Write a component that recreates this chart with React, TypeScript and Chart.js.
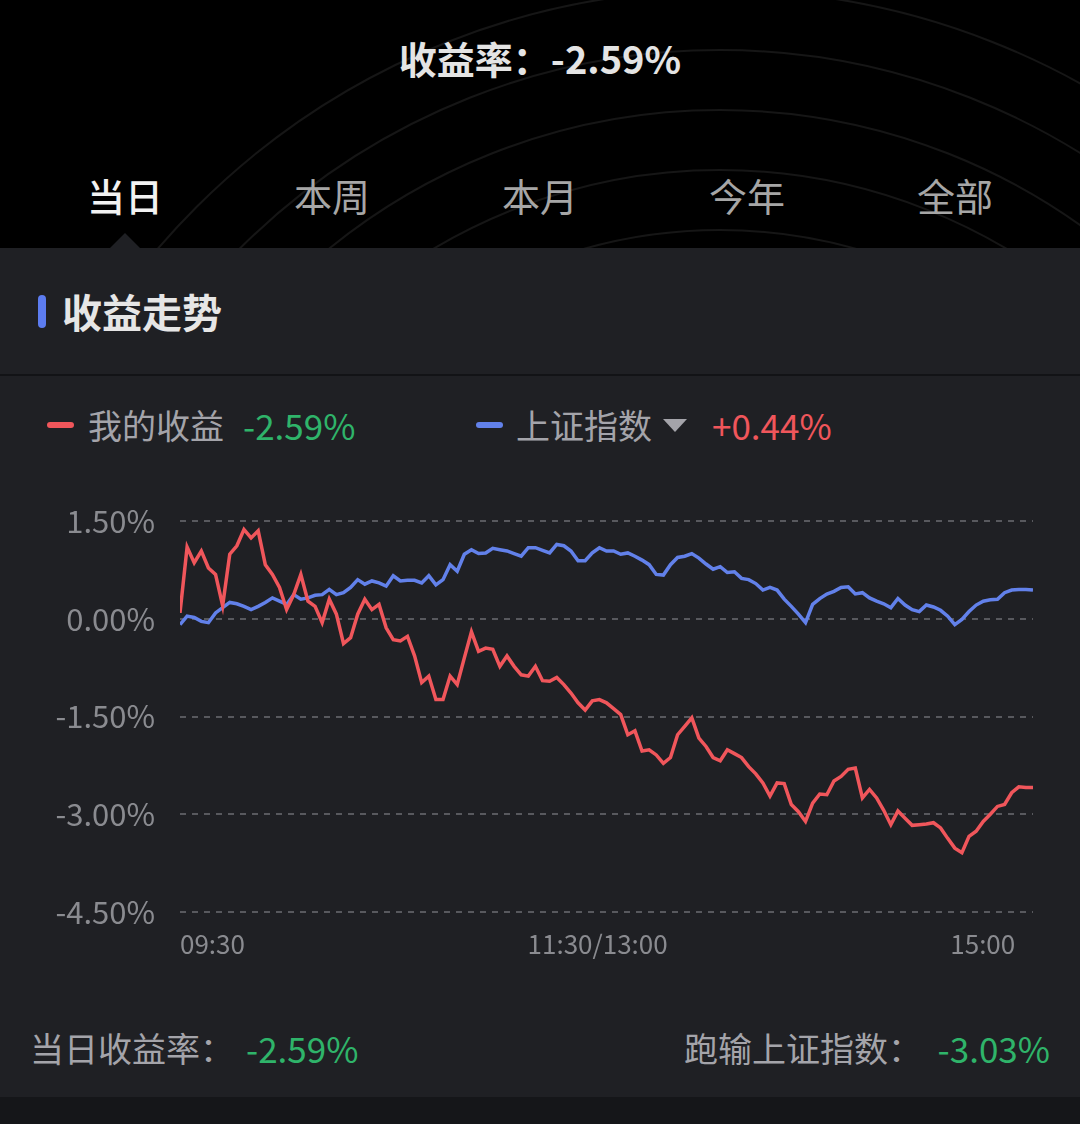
import React, { useEffect, useRef } from 'react';
import { Chart, registerables } from 'chart.js';

Chart.register(...registerables);

// ---- data (one sample every 2 trading minutes, 09:30 → 15:00) ----
const MINUTE_STEP = 2;

const myReturn = [
  0.09, 1.10, 0.86, 1.04, 0.78, 0.68, 0.20, 0.99, 1.12, 1.37,
  1.24, 1.35, 0.83, 0.68, 0.48, 0.14, 0.37, 0.68, 0.27, 0.19,
  -0.06, 0.30, 0.07, -0.38, -0.29, 0.07, 0.30, 0.14, 0.22, -0.14,
  -0.32, -0.34, -0.27, -0.57, -0.98, -0.88, -1.24, -1.24, -0.88, -1.01,
  -0.60, -0.20, -0.50, -0.45, -0.47, -0.73, -0.57, -0.73, -0.86, -0.88,
  -0.73, -0.95, -0.96, -0.90, -1.01, -1.14, -1.29, -1.40, -1.26, -1.24,
  -1.29, -1.38, -1.47, -1.78, -1.72, -2.03, -2.01, -2.09, -2.22, -2.13,
  -1.78, -1.65, -1.52, -1.83, -1.96, -2.13, -2.18, -2.01, -2.07, -2.13,
  -2.27, -2.38, -2.52, -2.72, -2.52, -2.53, -2.85, -2.96, -3.11, -2.83,
  -2.69, -2.70, -2.49, -2.42, -2.31, -2.29, -2.75, -2.62, -2.75, -2.94,
  -3.16, -2.95, -3.06, -3.17, -3.16, -3.15, -3.13, -3.21, -3.37, -3.52,
  -3.59, -3.34, -3.26, -3.11, -3.00, -2.88, -2.85, -2.67, -2.58, -2.59,
  -2.59,
];

const indexReturn = [
  -0.09, 0.04, 0.02, -0.04, -0.06, 0.09, 0.17, 0.25, 0.23, 0.19,
  0.14, 0.19, 0.25, 0.32, 0.27, 0.22, 0.37, 0.30, 0.32, 0.36,
  0.37, 0.45, 0.37, 0.40, 0.48, 0.60, 0.53, 0.58, 0.55, 0.50,
  0.66, 0.58, 0.59, 0.59, 0.55, 0.66, 0.52, 0.60, 0.83, 0.73,
  0.99, 1.06, 1.00, 1.01, 1.08, 1.06, 1.04, 1.00, 0.96, 1.09,
  1.09, 1.05, 1.01, 1.14, 1.12, 1.04, 0.89, 0.89, 1.01, 1.09,
  1.04, 1.04, 0.99, 1.01, 0.96, 0.90, 0.83, 0.68, 0.67, 0.83,
  0.94, 0.96, 1.00, 0.93, 0.84, 0.76, 0.80, 0.71, 0.72, 0.62,
  0.60, 0.54, 0.44, 0.48, 0.44, 0.30, 0.19, 0.07, -0.06, 0.22,
  0.31, 0.38, 0.42, 0.48, 0.49, 0.38, 0.40, 0.32, 0.27, 0.23,
  0.17, 0.31, 0.21, 0.14, 0.11, 0.21, 0.18, 0.13, 0.04, -0.09,
  -0.01, 0.11, 0.21, 0.27, 0.29, 0.30, 0.40, 0.44, 0.45, 0.45,
  0.44,
];

// positions (in minutes along the axis) where the time labels sit
const xTickPositions = [0, 117.5, 235];
const xTickLabels = ['09:30', '11:30/13:00', '15:00'];
const yTicks = [1.5, 0, -1.5, -3, -4.5];

const seriesNames = ['我的收益', '上证指数'];
const seriesLast = ['-2.59%', '+0.44%'];
const tabs = ['当日', '本周', '本月', '今年', '全部'];

const RED = '#f0565b';
const BLUE = '#6281ea';
const GREEN = '#2fb46a';
const FONT = "'Noto Sans CJK SC', 'Noto Sans', sans-serif";
const PANEL = '#1f2024';

function ReturnChart() {
  const ref = useRef<HTMLCanvasElement | null>(null);
  useEffect(() => {
    if (!ref.current) return;
    const chart = new Chart(ref.current, {
      type: 'line',
      data: {
        datasets: [
          {
            label: seriesNames[0],
            data: myReturn.map((v, i) => ({ x: i * MINUTE_STEP, y: v })),
            borderColor: RED,
            borderWidth: 3.5,
            pointRadius: 0,
            tension: 0,
          },
          {
            label: seriesNames[1],
            data: indexReturn.map((v, i) => ({ x: i * MINUTE_STEP, y: v })),
            borderColor: BLUE,
            borderWidth: 3.5,
            pointRadius: 0,
            tension: 0,
          },
        ],
      },
      options: {
        animation: false,
        responsive: false,
        events: [],
        layout: { padding: { top: 51, right: 47, left: 0, bottom: 0 } },
        plugins: { legend: { display: false }, tooltip: { enabled: false } },
        scales: {
          x: {
            type: 'linear',
            min: 0,
            max: 240,
            grid: { display: false },
            border: { display: false },
            afterBuildTicks: (s: any) => {
              s.ticks = xTickPositions.map((v) => ({ value: v }));
            },
            afterFit: (s: any) => {
              s.height = 78;
            },
            ticks: {
              autoSkip: false,
              maxRotation: 0,
              align: 'inner',
              padding: 9,
              color: '#8a8b90',
              font: { size: 26, family: FONT },
              callback: (v: any) => {
                const i = xTickPositions.indexOf(Number(v));
                return i >= 0 ? xTickLabels[i] : '';
              },
            },
          },
          y: {
            min: -4.5,
            max: 1.5,
            afterBuildTicks: (s: any) => {
              s.ticks = yTicks.map((v) => ({ value: v }));
            },
            afterFit: (s: any) => {
              s.width = 180;
            },
            grid: { color: '#58595e', lineWidth: 2, drawTicks: false },
            border: { display: false, dash: [6, 6] },
            ticks: {
              padding: 25,
              color: '#8a8b90',
              font: { size: 31, family: FONT },
              callback: (v: any) => Number(v).toFixed(2) + '%',
            },
          },
        },
      },
    } as any);
    return () => chart.destroy();
  }, []);
  return (
    <canvas
      ref={ref}
      width={1080}
      height={520}
      style={{ position: 'absolute', left: 0, top: 470, width: 1080, height: 520 }}
    />
  );
}

export default function App() {
  const tabCenters = [125, 332, 540, 747, 955];
  return (
    <div
      style={{
        position: 'absolute',
        left: 0,
        top: 0,
        width: 1080,
        height: 1124,
        background: PANEL,
        overflow: 'hidden',
        fontFamily: FONT,
      }}
    >
      {/* black header with faint arcs */}
      <div style={{ position: 'absolute', left: 0, top: 0, width: 1080, height: 248, background: '#000', overflow: 'hidden' }}>
        <svg width={1080} height={248} style={{ position: 'absolute', left: 0, top: 0 }}>
          {[740, 680, 620, 560, 500, 440, 390].map((r, i) => (
            <circle key={i} cx={720} cy={730} r={r} fill="none" stroke="rgba(255,255,255,0.085)" strokeWidth={2} />
          ))}
        </svg>
      </div>
      <div
        style={{
          position: 'absolute', left: 0, top: 30, width: 1080, height: 56, lineHeight: '56px',
          textAlign: 'center', fontSize: 38, fontWeight: 700, color: '#e4e4e4',
        }}
      >
        收益率：-2.59%
      </div>
      {tabs.map((t, i) => (
        <div
          key={t}
          style={{
            position: 'absolute', left: tabCenters[i] - 80, top: 169, width: 160, height: 52,
            lineHeight: '52px', textAlign: 'center', fontSize: 38,
            fontWeight: i === 0 ? 500 : 400, color: i === 0 ? '#f2f2f2' : '#a6a6a6',
          }}
        >
          {t}
        </div>
      ))}
      {/* pointer triangle */}
      <div
        style={{
          position: 'absolute', left: 125 - 15, top: 233, width: 0, height: 0,
          borderLeft: '15px solid transparent', borderRight: '15px solid transparent',
          borderBottom: `15px solid ${PANEL}`,
        }}
      />
      {/* section header */}
      <div style={{ position: 'absolute', left: 38, top: 295, width: 8, height: 33, borderRadius: 4, background: '#5c7cf0' }} />
      <div
        style={{
          position: 'absolute', left: 62, top: 285, height: 52, lineHeight: '52px',
          fontSize: 40, fontWeight: 700, color: '#e6e6e6',
        }}
      >
        收益走势
      </div>
      <div style={{ position: 'absolute', left: 0, top: 374, width: 1080, height: 2, background: '#121316' }} />
      {/* legend */}
      <div style={{ position: 'absolute', left: 47, top: 422, width: 27, height: 6, borderRadius: 3, background: RED }} />
      <div style={{ position: 'absolute', left: 88, top: 400, height: 50, lineHeight: '50px', fontSize: 34, color: '#a4a4aa' }}>
        {seriesNames[0]}
      </div>
      <div style={{ position: 'absolute', left: 243, top: 400, height: 50, lineHeight: '50px', fontSize: 35, color: GREEN }}>
        {seriesLast[0]}
      </div>
      <div style={{ position: 'absolute', left: 476, top: 422, width: 27, height: 6, borderRadius: 3, background: BLUE }} />
      <div style={{ position: 'absolute', left: 516, top: 400, height: 50, lineHeight: '50px', fontSize: 34, color: '#a4a4aa' }}>
        {seriesNames[1]}
      </div>
      <div
        style={{
          position: 'absolute', left: 663, top: 419, width: 0, height: 0,
          borderLeft: '12px solid transparent', borderRight: '12px solid transparent',
          borderTop: '13px solid #a4a4aa',
        }}
      />
      <div style={{ position: 'absolute', left: 712, top: 400, height: 50, lineHeight: '50px', fontSize: 35, color: RED }}>
        {seriesLast[1]}
      </div>
      <ReturnChart />
      {/* footer stats */}
      <div style={{ position: 'absolute', left: 30, top: 1023, height: 50, lineHeight: '50px', fontSize: 34, color: '#a4a4aa' }}>
        当日收益率：
      </div>
      <div style={{ position: 'absolute', left: 246, top: 1023, height: 50, lineHeight: '50px', fontSize: 35, color: GREEN }}>
        -2.59%
      </div>
      <div style={{ position: 'absolute', left: 684, top: 1023, height: 50, lineHeight: '50px', fontSize: 34, color: '#a4a4aa' }}>
        跑输上证指数：
      </div>
      <div
        style={{
          position: 'absolute', right: 30, top: 1023, height: 50, lineHeight: '50px', fontSize: 35,
          color: GREEN, textAlign: 'right',
        }}
      >
        -3.03%
      </div>
      <div style={{ position: 'absolute', left: 0, top: 1097, width: 1080, height: 27, background: '#151619' }} />
    </div>
  );
}
